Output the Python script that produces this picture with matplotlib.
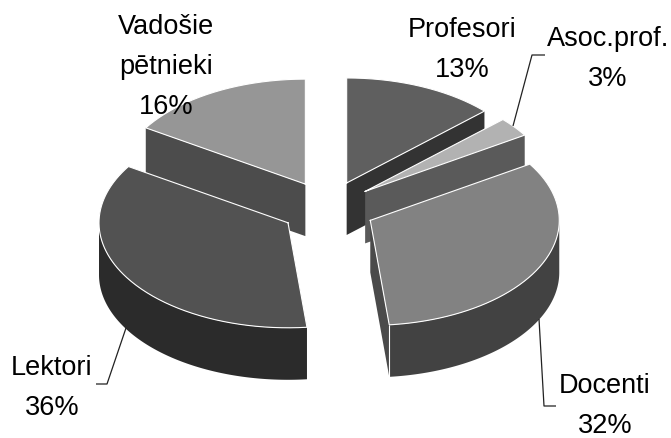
import numpy as np
import matplotlib
matplotlib.use("Agg")
import matplotlib.pyplot as plt

categories = ["Profesori", "Asoc.prof.", "Docenti", "Lektori", "Vadošie\npētnieki"]
values = [13, 3, 32.4, 35.6, 16]

top_colors = ["#5f5f5f", "#b2b2b2", "#828282", "#525252", "#969696"]
cut_colors = ["#333333", "#5a5a5a", "#4a4a4a", "#2b2b2b", "#4c4c4c"]
rim_colors = ["#333333", "#5a5a5a", "#424242", "#2b2b2b", "#4c4c4c"]
label_pos = [(462, 50), (608, 59), (605, 406), (52, 388), (166, 67)]
leaders = {
    "Asoc.prof.": [(513, 127), (532, 56), (545, 56)],
    "Docenti": [(539, 320), (544, 407), (556, 407)],
    "Lektori": [(126, 329), (107, 385), (96, 385)],
}

CX, CY = 328.0, 209.3
RX, RY = 189.0, 105.0
EX, EY = 47.0, 27.6
DEPTH = 52.0

plt.rcParams["font.family"] = ["Liberation Sans", "DejaVu Sans"]
fig = plt.figure(figsize=(6.71, 4.39), dpi=100)
ax = fig.add_axes([0, 0, 1, 1])
ax.set_xlim(0, 671)
ax.set_ylim(439, 0)
ax.axis("off")


def rim(apex, t):
    return apex[0] + RX * np.sin(t), apex[1] - RY * np.cos(t)


frac = np.array(values) / sum(values) * 2 * np.pi
ends = np.cumsum(frac)
starts = ends - frac

wedges = []
for i in range(len(values)):
    mid = (starts[i] + ends[i]) / 2
    apex = (CX + EX * np.sin(mid), CY - EY * np.cos(mid))
    wedges.append((i, apex, starts[i], ends[i]))

# painter's order: back wedges first, the front ones over them
for i, apex, a, b in [wedges[k] for k in (0, 1, 4, 3, 2)]:
    ts = np.linspace(a, b, 200)
    x, y = rim(apex, ts)
    # cut faces
    for t, show in ((a, np.sin(a) < -1e-6), (b, np.sin(b) > 1e-6)):
        if show:
            rx, ry = rim(apex, t)
            ax.fill([apex[0], rx, rx, apex[0]],
                    [apex[1], ry, ry + DEPTH, apex[1] + DEPTH],
                    color=cut_colors[i], lw=0)
    # outer rim, the front half only
    front = np.cos(ts) < 0
    if front.any():
        fx, fy = x[front], y[front]
        ax.fill(np.r_[fx, fx[::-1]], np.r_[fy, fy[::-1] + DEPTH],
                color=rim_colors[i], lw=0)
        if np.sin(b) > 1e-6:
            ax.plot([fx[-1], fx[-1]], [fy[-1], fy[-1] + DEPTH], color="white", lw=0.8,
                    solid_capstyle="butt")
    # top
    ax.fill(np.r_[apex[0], x], np.r_[apex[1], y], color=top_colors[i], lw=0)
    ax.plot(np.r_[apex[0], x, apex[0]], np.r_[apex[1], y, apex[1]],
            color="white", lw=0.8, solid_joinstyle="miter")

for (cat, val, (lx, ly)) in zip(categories, values, label_pos):
    ax.text(lx, ly, f"{cat}\n{val:.0f}%", ha="center", va="center", fontsize=19.5,
            color="black", linespacing=1.68)

for pts in leaders.values():
    xs, ys = zip(*pts)
    ax.plot(xs, ys, color="#222222", lw=0.9, solid_capstyle="butt")

fig.savefig("out.png", dpi=100, facecolor="white")
